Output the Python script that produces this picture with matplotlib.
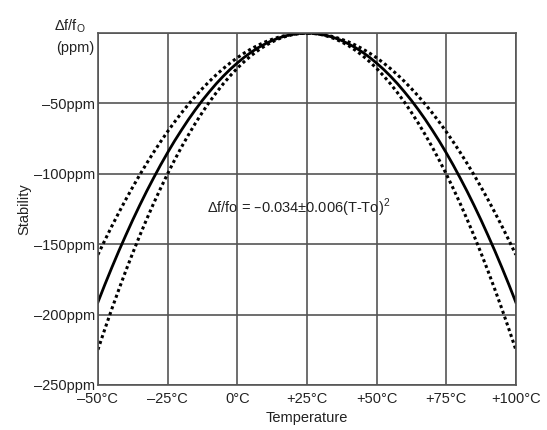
import matplotlib.pyplot as plt

plt.rcParams['font.family'] = ['Liberation Sans', 'DejaVu Sans']

temps = [t / 2 for t in range(-100, 201, 5)]
# stability readings (ppm), every 2.5 degrees from -50 to +100
nominal = [-191.3, -178.7, -166.6, -154.9, -143.7, -132.8, -122.4, -112.4, -102.9, -93.7,
           -85.0, -76.7, -68.9, -61.4, -54.4, -47.8, -41.7, -35.9, -30.6, -25.7,
           -21.3, -17.2, -13.6, -10.4, -7.7, -5.3, -3.4, -1.9, -0.9, -0.2, 0.0,
           -0.2, -0.9, -1.9, -3.4, -5.3, -7.7, -10.4, -13.6, -17.2, -21.3,
           -25.7, -30.6, -35.9, -41.7, -47.8, -54.4, -61.4, -68.9, -76.7, -85.0,
           -93.7, -102.9, -112.4, -122.4, -132.8, -143.7, -154.9, -166.6, -178.7, -191.3]
wide = [-225.0, -210.3, -196.0, -182.3, -169.0, -156.3, -144.0, -132.3, -121.0, -110.3,
        -100.0, -90.3, -81.0, -72.3, -64.0, -56.3, -49.0, -42.3, -36.0, -30.3,
        -25.0, -20.3, -16.0, -12.3, -9.0, -6.3, -4.0, -2.3, -1.0, -0.3, 0.0,
        -0.3, -1.0, -2.3, -4.0, -6.3, -9.0, -12.3, -16.0, -20.3, -25.0,
        -30.3, -36.0, -42.3, -49.0, -56.3, -64.0, -72.3, -81.0, -90.3, -100.0,
        -110.3, -121.0, -132.3, -144.0, -156.3, -169.0, -182.3, -196.0, -210.3, -225.0]
narrow = [-157.5, -147.2, -137.2, -127.6, -118.3, -109.4, -100.8, -92.6, -84.7, -77.2,
          -70.0, -63.2, -56.7, -50.6, -44.8, -39.4, -34.3, -29.6, -25.2, -21.2,
          -17.5, -14.2, -11.2, -8.6, -6.3, -4.4, -2.8, -1.6, -0.7, -0.2, 0.0,
          -0.2, -0.7, -1.6, -2.8, -4.4, -6.3, -8.6, -11.2, -14.2, -17.5,
          -21.2, -25.2, -29.6, -34.3, -39.4, -44.8, -50.6, -56.7, -63.2, -70.0,
          -77.2, -84.7, -92.6, -100.8, -109.4, -118.3, -127.6, -137.2, -147.2, -157.5]

xticks = [-50, -25, 0, 25, 50, 75, 100]
xlabels = ['\u201350\u00b0C', '\u201325\u00b0C', '0\u00b0C', '+25\u00b0C', '+50\u00b0C', '+75\u00b0C', '+100\u00b0C']
yticks = [-250, -200, -150, -100, -50, 0]
ylabels = ['\u2013250ppm', '\u2013200ppm', '\u2013150ppm', '\u2013100ppm', '\u201350ppm', '']

fig = plt.figure(figsize=(5.47, 4.30), dpi=100)
ax = fig.add_axes([0.179, 0.105, 0.764, 0.818])

ax.plot(temps, wide, color='black', linestyle=(0, (1, 1)), linewidth=2.2)
ax.plot(temps, narrow, color='black', linestyle=(0, (1, 1)), linewidth=2.2)
ax.plot(temps, nominal, color='black', linewidth=2.0, solid_joinstyle='round')

ax.set_xlim(-50, 100)
ax.set_ylim(-250, 0)
ax.set_xticks(xticks)
ax.set_xticklabels(xlabels)
ax.set_yticks(yticks)
ax.set_yticklabels(ylabels)
ax.tick_params(length=0, labelsize=10.5, colors='#222222')
ax.tick_params(axis='x', pad=5)
ax.tick_params(axis='y', pad=2)
ax.grid(True, color='#555555', linewidth=1.2)
ax.set_axisbelow(True)
for s in ax.spines.values():
    s.set_color('#555555')
    s.set_linewidth(1.2)

ax.set_xlabel('Temperature', fontsize=10.5, labelpad=4, color='#222222')
ax.set_ylabel('Stability', fontsize=10.5, labelpad=2, color='#222222')

ax.text(-11, -124, '\u0394f/fo = \u20130.034\u00b10.006(T-To)$^\\mathregular{2}$', fontsize=10.5,
        va='center', ha='left', color='#222222')

fig.text(0.157, 0.94, '\u0394f/f$_\\mathregular{O}$', fontsize=10.5, ha='right', va='center', color='#222222')
fig.text(0.172, 0.888, '(ppm)', fontsize=10.5, ha='right', va='center', color='#222222')

fig.savefig('out.png', dpi=100, facecolor='white')
